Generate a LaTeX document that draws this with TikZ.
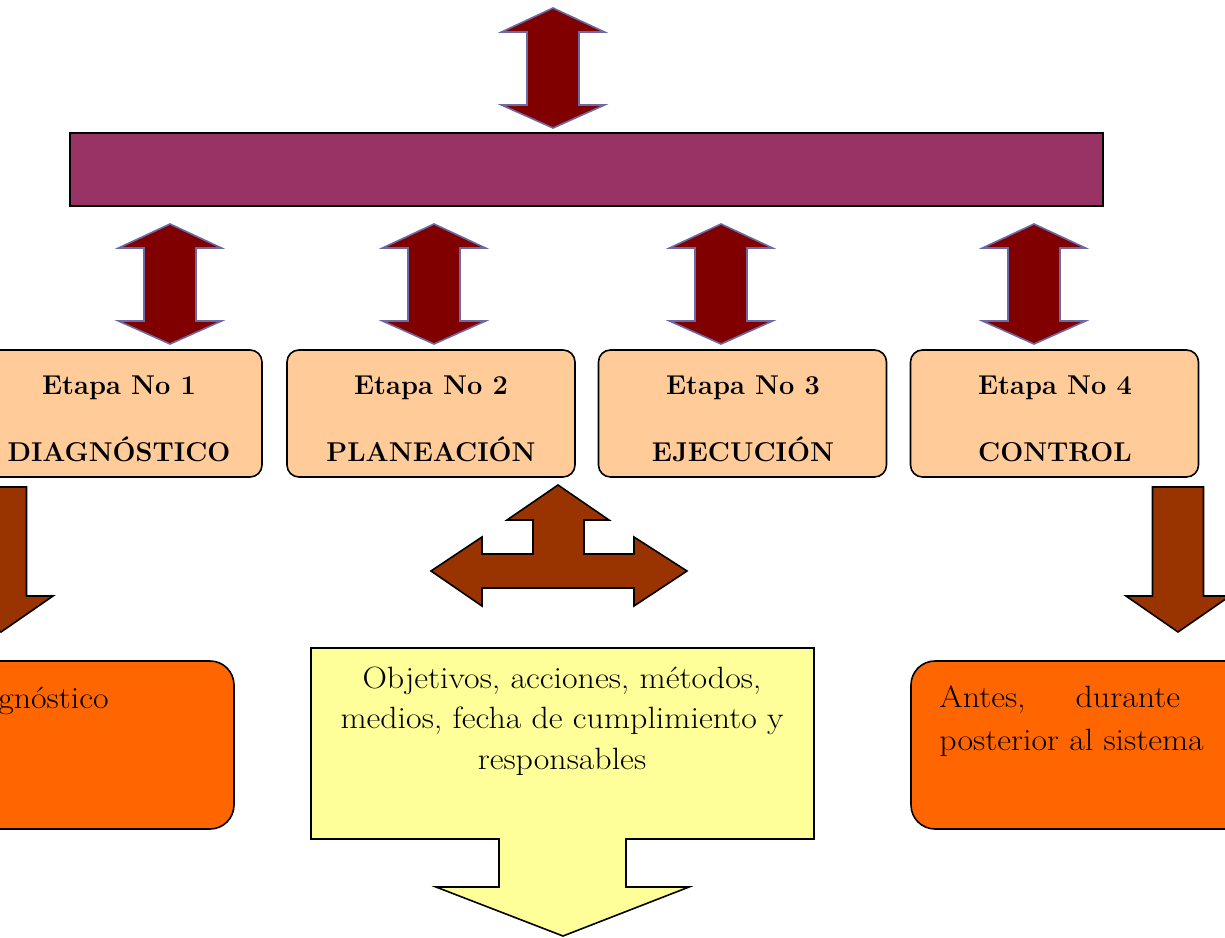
\documentclass[tikz,border=0pt]{standalone}
\usepackage{fontspec}
\setmainfont{Latin Modern Roman}[FakeStretch=1.1]
\newfontfamily\stagefont{Latin Modern Roman}
\definecolor{dred}{HTML}{800000}
\definecolor{dedge}{HTML}{6A6AA6}
\definecolor{barpurple}{HTML}{993366}
\definecolor{peach}{HTML}{FFCC99}
\definecolor{brownarrow}{HTML}{993300}
\definecolor{lyellow}{HTML}{FFFF99}
\definecolor{orangebox}{HTML}{FF6600}
\begin{document}
\begin{tikzpicture}[x=0.5pt,y=-0.5pt,
  txt/.style={inner sep=0pt, font=\fontsize{15.4}{20}\selectfont},
  stxt/.style={inner sep=0pt, font=\stagefont\fontsize{13.6}{20}\selectfont\bfseries},
  dblstyle/.style={fill=dred, draw=dedge, line width=0.8pt, line join=miter},
  brownstyle/.style={fill=brownarrow, draw=black, line width=0.8pt},
  stagebox/.style={draw=black, fill=peach, line width=0.8pt, rounded corners=6pt,
     minimum width=144pt, minimum height=63.5pt, inner sep=0pt},
  resultbox/.style={draw=black, fill=orangebox, line width=0.8pt, rounded corners=12pt, inner sep=0pt},
  dblarrow/.pic={\path[dblstyle] (0,0) -- (51.5,24) -- (26,24) -- (26,97) -- (51.5,97) -- (0,120)
      -- (-51.5,97) -- (-26,97) -- (-26,24) -- (-51.5,24) -- cycle;},
  downarrow/.pic={\path[brownstyle] (-25.5,0) -- (25.5,0) -- (25.5,109) -- (52,109) -- (0,145)
      -- (-52,109) -- (-25.5,109) -- cycle;}
]
\useasboundingbox (0,0) rectangle (1225,937);
\clip (0,0) rectangle (1225,937);

% top double arrow and bar
\pic at (553,8) {dblarrow};
\node[draw=black, fill=barpurple, line width=0.8pt, minimum width=516.5pt, minimum height=36.5pt, inner sep=0pt] (bar) at (586.5,169.5) {};

% lower double arrows
\pic at (170,224) {dblarrow};
\pic at (434,224) {dblarrow};
\pic at (721,224) {dblarrow};
\pic at (1034,224) {dblarrow};

% stage boxes
\node[stagebox] (s1) at (118,413.5) {};
\node[stagebox] (s2) at (431,413.5) {};
\node[stagebox] (s3) at (742.5,413.5) {};
\node[stagebox] (s4) at (1054.5,413.5) {};
\foreach \n/\x/\w in {1/119/DIAGNÓSTICO, 2/431/PLANEACIÓN, 3/743/EJECUCIÓN, 4/1055/CONTROL}{
  \node[stxt, anchor=base] (e\n) at (\x,394) {Etapa No \n};
  \node[stxt, anchor=base] (w\n) at (\x,461) {\w};
}

% brown down arrows
\pic at (1,487) {downarrow};
\pic at (1178,487) {downarrow};

% three-way arrow
\path[brownstyle] (558,485) -- (609,520) -- (584,520) -- (584,554) -- (634,554) -- (634,537)
  -- (687,571) -- (634,606) -- (634,588) -- (482,588) -- (482,606) -- (431,571) -- (482,537)
  -- (482,554) -- (533,554) -- (533,520) -- (507,520) -- cycle;

% left result box
\path[resultbox] (-80,661) rectangle (234,829);
\node[txt, anchor=base east] (diag) at (109,708) {gnóstico};

% right result box
\path[resultbox] (911,661) rectangle (1300,829);
\node[txt, anchor=base west] (r1) at (939,707) {Antes,\hspace{25pt}durante};
\node[txt, anchor=base west] (r2) at (939,750) {posterior al sistema};

% yellow callout
\path[fill=lyellow, draw=black, line width=0.8pt] (311,648) -- (814,648) -- (814,839) -- (626,839)
  -- (626,887) -- (689,887) -- (563,936) -- (436,887) -- (499,887) -- (499,839) -- (311,839) -- cycle;
\node[txt, anchor=base] (y1) at (562,688) {Objetivos, acciones, métodos,};
\node[txt, anchor=base] (y2) at (562,728) {medios, fecha de cumplimiento y};
\node[txt, anchor=base] (y3) at (562,769) {responsables};
\end{tikzpicture}
\end{document}
